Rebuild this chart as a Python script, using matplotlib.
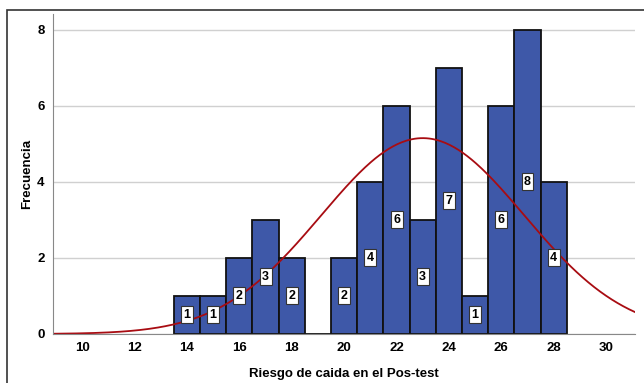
import numpy as np
import matplotlib.pyplot as plt
from matplotlib.patches import Rectangle

plt.rcParams['font.family'] = ['Liberation Sans', 'DejaVu Sans']

# Frequency of each score (bin width 1)
scores = [14, 15, 16, 17, 18, 19, 20, 21, 22, 23, 24, 25, 26, 27, 28]
counts = [1, 1, 2, 3, 2, 0, 2, 4, 6, 3, 7, 1, 6, 8, 4]

bar_color = '#3E58A8'
curve_color = '#A80C12'

fig = plt.figure(figsize=(6.44, 3.83), dpi=100)
ax = fig.add_axes([53 / 644, 49 / 383, 582 / 644, 320 / 383])

ax.set_axisbelow(True)
ax.yaxis.grid(True, color='#D0D0D0', linewidth=1.0)

ax.bar(scores, counts, width=1.0, color=bar_color, edgecolor='#111111', linewidth=1.3)

for x, c in zip(scores, counts):
    if c > 0:
        ax.text(x, c / 2, str(c), ha='center', va='center', fontsize=9, fontweight='bold',
                bbox=dict(boxstyle='square,pad=0.2', facecolor='white',
                          edgecolor='#333333', linewidth=0.8))

# fitted normal curve from the counts
n = sum(counts)
vals = np.repeat(scores, counts)
mu = vals.mean()
sd = vals.std(ddof=1)
xs = np.linspace(8.89, 31.1, 400)
ys = n * np.exp(-0.5 * ((xs - mu) / sd) ** 2) / (sd * np.sqrt(2 * np.pi))
ax.plot(xs, ys, color=curve_color, linewidth=1.3)

ax.set_xlim(8.89, 31.1)
ax.set_ylim(0, 8.42)
ax.set_xticks(range(10, 31, 2))
ax.set_yticks([0, 2, 4, 6, 8])
ax.tick_params(length=0, labelsize=9.5, pad=6)
for lbl in ax.get_xticklabels() + ax.get_yticklabels():
    lbl.set_fontweight('bold')

for s in ['top', 'right']:
    ax.spines[s].set_visible(False)
ax.spines['left'].set_color('#888888')
ax.spines['bottom'].set_color('#888888')

ax.set_xlabel('Riesgo de caida en el Pos-test', fontsize=9.5, fontweight='bold', labelpad=10)
ax.set_ylabel('Frecuencia', fontsize=9.5, fontweight='bold', labelpad=3)

# outer frame
fig.patches.append(Rectangle((7 / 644, -5 / 383), 650 / 644, 378 / 383,
                             transform=fig.transFigure, fill=False,
                             edgecolor='#333333', linewidth=1.2))

fig.savefig('out.png', dpi=100)
